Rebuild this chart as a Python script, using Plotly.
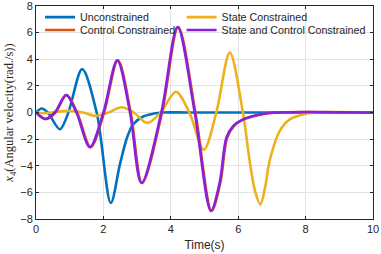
import plotly.graph_objects as go

# Unconstrained
t_unc = [0, 0.17, 0.35, 0.71, 0.96, 1.37, 1.8, 2.22, 2.49, 2.7, 2.88, 3.18, 3.5, 3.77, 4.5, 10]
v_unc = [0, 0.3, 0, -1.26, 0, 3.26, 0, -6.8, -3.9, -1.9, -0.9, -0.3, -0.08, 0, 0, 0]

# State Constrained
t_st = [0, 0.25, 0.6, 1.0, 1.4, 1.75, 2.15, 2.54, 2.9, 3.3, 3.7, 4.15, 4.55, 4.98, 5.35, 5.75,
        6.14, 6.34, 6.5, 6.66, 6.8, 6.93, 7.23, 7.53, 7.92, 8.3, 10]
v_st = [0, -0.05, 0.05, 0.12, 0, -0.25, 0, 0.39, 0, -0.78, 0, 1.56, 0, -2.8, 0, 4.5,
        0, -3.65, -5.9, -6.9, -5.6, -3.65, -1.4, -0.52, -0.15, 0, 0]

# Control Constrained
t_ctl = [0, 0.29, 0.58, 0.91, 1.22, 1.62, 2.02, 2.43, 2.81, 3.15, 3.74, 4.22, 4.73, 5.21,
         5.47, 5.67, 5.87, 6.16, 6.66, 7.1, 10]
v_ctl = [0, -0.49, 0, 1.31, 0, -2.6, 0, 3.93, 0, -5.3, 0, 6.42, 0, -7.39,
         -5.27, -1.9, -1.02, -0.52, -0.15, 0, 0]

# State and Control Constrained
t_sc = [0, 0.27, 0.56, 0.89, 1.2, 1.6, 2.0, 2.41, 2.79, 3.13, 3.72, 4.2, 4.71, 5.19,
        5.45, 5.65, 5.85, 6.14, 6.64, 7.1, 10]
v_sc = [0, -0.49, 0, 1.31, 0, -2.6, 0, 3.93, 0, -5.3, 0, 6.42, 0, -7.39,
        -5.27, -1.9, -1.02, -0.52, -0.15, 0, 0]

x_ticks = [0, 2, 4, 6, 8, 10]
y_ticks = [-8, -6, -4, -2, 0, 2, 4, 6, 8]

fig = go.Figure()
series = [
    ("Unconstrained", t_unc, v_unc, "#0072BD", "legend"),
    ("State Constrained", t_st, v_st, "#EDB120", "legend2"),
    ("Control Constrained", t_ctl, v_ctl, "#D95319", "legend3"),
    ("State and Control Constrained", t_sc, v_sc, "#8A1FDC", "legend4"),
]
for name, t, v, c, lg in series:
    fig.add_trace(go.Scatter(x=t, y=v, mode="lines", name=name, legend=lg,
                             line=dict(color=c, width=2.6, shape="spline", smoothing=0.9)))

font_fam = "Liberation Sans, Arial, sans-serif"
axis_common = dict(showline=True, mirror="ticks", linecolor="#262626", linewidth=1,
                   ticks="inside", ticklen=3, tickcolor="#262626", automargin=False,
                   ticklabeloverflow="allow",
                   showgrid=True, gridcolor="#E3E3E3", gridwidth=1, zeroline=False,
                   tickfont=dict(family=font_fam, size=11, color="#262626"))

def leg(xp, yp):
    return dict(x=xp, y=yp, xanchor="left", yanchor="middle", bgcolor="rgba(0,0,0,0)",
                font=dict(size=10.7, family=font_fam, color="#262626"),
                tracegroupgap=0, itemwidth=30, borderwidth=0)

fig.update_layout(
    width=381, height=254,
    margin=dict(l=36, r=8, t=6, b=35, autoexpand=False),
    paper_bgcolor="white", plot_bgcolor="white",
    font=dict(family=font_fam, size=11, color="#262626"),
    xaxis=dict(range=[0, 10], tickvals=x_ticks,
               title=dict(text="Time(s)", standoff=6, font=dict(size=12)), **axis_common),
    yaxis=dict(range=[-8, 8], tickvals=y_ticks,
               title=dict(text="<i>x</i><sub>4</sub>(Angular velocity(rad./s))", standoff=3,
                          font=dict(family="Liberation Serif, DejaVu Serif, serif", size=12.5)),
               **axis_common),
    legend=leg(0.012, 0.948),
    legend2=leg(0.432, 0.948),
    legend3=leg(0.012, 0.887),
    legend4=leg(0.432, 0.887),
    showlegend=True,
)
fig.write_html("out.html", config={"displayModeBar": False},
               post_script="document.body.style.margin='0';document.body.style.overflow='hidden';")
